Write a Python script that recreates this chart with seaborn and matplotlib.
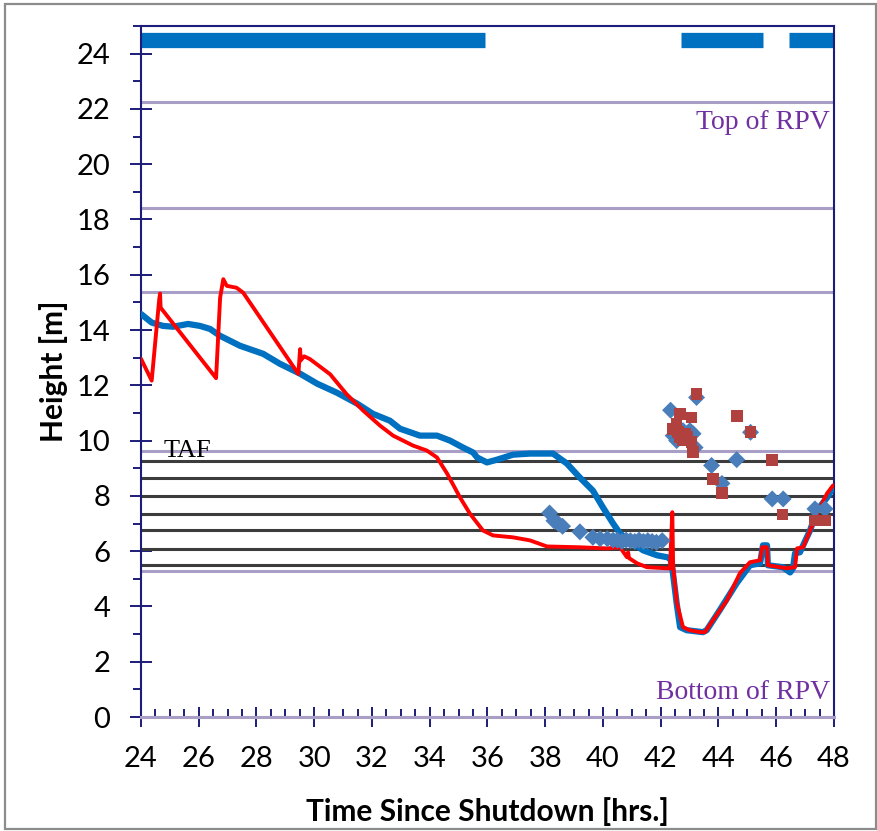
import matplotlib
matplotlib.use("Agg")
import matplotlib.pyplot as plt
import seaborn as sns
import numpy as np
import pandas as pd
from matplotlib.patches import Rectangle
from matplotlib.ticker import MultipleLocator

# ---------------- data ----------------
blue_t = [24.0, 24.37, 24.76, 25.11, 25.63, 26.04, 26.39, 26.74, 27.43, 28.23, 28.81, 29.51,
          30.10, 30.79, 31.48, 32.03, 32.62, 32.97, 33.66, 34.25, 34.70, 35.15, 35.50, 35.64,
          35.98, 36.33, 36.88, 37.47, 38.27, 38.75, 39.20, 39.65, 40.0, 40.35, 40.59, 41.04,
          41.39, 41.87, 42.22, 42.32, 42.38, 42.55, 42.67, 42.90, 43.46, 43.59, 44.04, 44.63,
          45.09, 45.44, 45.54, 45.68, 45.71, 46.23, 46.48, 46.58, 46.65, 46.82, 47.17, 47.41,
          47.76, 47.97]
blue_h = [14.58, 14.27, 14.15, 14.12, 14.22, 14.15, 14.04, 13.79, 13.43, 13.14, 12.78, 12.42,
          12.06, 11.73, 11.34, 10.97, 10.72, 10.43, 10.18, 10.18, 10.0, 9.75, 9.57, 9.39,
          9.21, 9.31, 9.49, 9.53, 9.53, 9.17, 8.66, 8.19, 7.58, 7.0, 6.64, 6.28,
          6.03, 5.85, 5.78, 5.74, 5.56, 4.12, 3.25, 3.14, 3.07, 3.14, 3.86, 4.84,
          5.49, 5.56, 6.21, 6.21, 5.49, 5.42, 5.23, 5.38, 5.92, 5.96, 6.75, 7.47,
          7.94, 8.30]

red_t = [24.0, 24.37, 24.63, 24.66, 24.68, 26.60, 26.74, 26.85, 26.97, 27.31, 27.54, 29.45,
         29.51, 29.53, 29.65, 29.85, 30.55, 31.12, 31.70, 32.28, 32.73, 33.42, 33.90, 34.25,
         34.60, 35.05, 35.39, 35.84, 36.19, 36.88, 37.47, 38.06, 39.20, 40.14, 40.59, 40.83,
         40.87, 40.90, 41.18, 41.52, 42.22, 42.32, 42.40, 42.43, 42.56, 42.77, 43.0, 43.36,
         43.53, 43.81, 44.29, 44.74, 45.09, 45.44, 45.51, 45.68, 45.71, 46.37, 46.65, 46.72,
         46.93, 47.17, 47.52, 47.76, 47.97]
red_h = [12.96, 12.17, 15.10, 15.32, 14.81, 12.26, 15.17, 15.84, 15.60, 15.53, 15.35, 12.41,
         13.31, 12.90, 13.05, 12.95, 12.40, 11.68, 11.08, 10.54, 10.18, 9.82, 9.64, 9.39,
         8.81, 7.94, 7.36, 6.75, 6.57, 6.50, 6.39, 6.17, 6.14, 6.10, 6.14, 5.78,
         5.96, 5.75, 5.56, 5.42, 5.38, 5.38, 7.41, 5.42, 4.12, 3.25, 3.14, 3.07,
         3.07, 3.50, 4.22, 5.20, 5.60, 5.67, 6.14, 6.14, 5.49, 5.38, 5.42, 6.10,
         6.14, 6.75, 7.58, 8.09, 8.38]

diamond_t = [38.15, 38.30, 38.45, 38.60, 39.20, 39.65, 39.90, 40.15, 40.35, 40.50, 40.65, 40.80,
             40.95, 41.10, 41.25, 41.40, 41.55, 41.70, 41.85, 42.05,
             42.34, 42.43, 42.55, 42.77, 43.01, 43.12, 43.19, 43.24, 43.76, 44.12, 44.63, 45.11,
             45.86, 46.24, 47.34, 47.69]
diamond_h = [7.38, 7.10, 7.00, 6.90, 6.70, 6.50, 6.45, 6.45, 6.40, 6.40, 6.35, 6.40,
             6.38, 6.35, 6.40, 6.35, 6.38, 6.35, 6.32, 6.38,
             11.10, 10.18, 10.00, 10.36, 10.36, 10.25, 9.75, 11.56, 9.10, 8.45, 9.31, 10.30,
             7.89, 7.89, 7.53, 7.53]

square_t = [42.43, 42.55, 42.67, 42.67, 42.78, 42.90, 43.07, 43.07, 43.12, 43.24, 42.60, 42.85,
            43.80, 44.13, 44.63, 45.11, 45.86, 46.22, 47.34, 47.69]
square_h = [10.42, 10.60, 10.96, 10.12, 10.00, 10.12, 10.84, 9.94, 9.58, 11.68, 10.30, 10.25,
            8.62, 8.10, 10.90, 10.30, 9.30, 7.33, 7.11, 7.11]

bar_start = [24.0, 42.70, 46.45]
bar_end = [35.90, 45.55, 48.0]
bar_level = 24.5

rpv_levels = [22.24, 18.41, 15.38, 9.64, 5.27, 0.0]
grid_levels = [9.28, 8.65, 7.99, 7.35, 6.75, 6.09, 5.49]

x_ticks = list(range(24, 49, 2))
y_ticks = list(range(0, 25, 2))

# ---------------- style ----------------
sns.set_style("white")
plt.rcParams['font.family'] = ['Lato', 'DejaVu Sans']

NAVY = "#1c1c7a"
LAV = "#a99ec6"
PURPLE = "#7030a0"

fig = plt.figure(figsize=(8.78, 8.31), dpi=100)
ax = fig.add_axes([141/878, 1-717/831, (834-141)/878, (717-26)/831])

# horizontal reference lines
for lv in grid_levels:
    ax.axhline(lv, color="#3c3c3c", lw=2.2, zorder=1)
for lv in rpv_levels:
    ax.axhline(lv, color=LAV, lw=2.2, zorder=1.5)

# top status bars
ax.hlines([bar_level]*len(bar_start), bar_start, bar_end, colors="#0070c0", lw=11,
          zorder=2)

blue_df = pd.DataFrame({"t": blue_t, "h": blue_h})
red_df = pd.DataFrame({"t": red_t, "h": red_h})
dia_df = pd.DataFrame({"t": diamond_t, "h": diamond_h})
sq_df = pd.DataFrame({"t": square_t, "h": square_h})

sns.lineplot(data=blue_df, x="t", y="h", sort=False, estimator=None, color="#0070c0",
             lw=4.5, ax=ax, zorder=3)
sns.lineplot(data=red_df, x="t", y="h", sort=False, estimator=None, color="#ff0000",
             lw=2.8, ax=ax, zorder=4)
sns.scatterplot(data=dia_df, x="t", y="h", marker="D", s=75, color="#4a7ebb",
                edgecolor="none", ax=ax, zorder=5)
sns.scatterplot(data=sq_df, x="t", y="h", marker="s", s=70, color="#b0413e",
                edgecolor="none", ax=ax, zorder=6)

# annotations
ax.text(47.85, 21.5, "Top of RPV", ha="right", va="center", color=PURPLE,
        fontsize=20, family=["Liberation Serif", "DejaVu Serif"], zorder=7)
ax.text(47.85, 0.88, "Bottom of RPV", ha="right", va="center", color=PURPLE,
        fontsize=20, family=["Liberation Serif", "DejaVu Serif"], zorder=7)
ax.text(24.78, 9.62, "TAF", ha="left", va="center", color="black",
        fontsize=19, family=["Liberation Serif", "DejaVu Serif"], zorder=7)

# axes
ax.set_xlim(24, 48)
ax.set_ylim(0, 25)
ax.set_xticks(x_ticks)
ax.set_yticks(y_ticks)
ax.xaxis.set_minor_locator(MultipleLocator(0.5))
ax.yaxis.set_minor_locator(MultipleLocator(1))

ax.tick_params(axis="x", which="major", direction="inout", length=14, width=1.4,
               color=NAVY, labelsize=21, pad=14, labelcolor="black")
ax.tick_params(axis="x", which="minor", direction="in", length=5.5, width=1.4, color=NAVY)
ax.tick_params(axis="y", which="major", direction="inout", length=16, width=1.4,
               color=NAVY, labelsize=21, pad=14, labelcolor="black")
ax.tick_params(axis="y", which="minor", direction="out", length=6, width=1.4, color=NAVY)
ax.xaxis.set_ticks_position("bottom")
ax.yaxis.set_ticks_position("left")

for side in ["left", "top", "right"]:
    ax.spines[side].set_color(NAVY)
    ax.spines[side].set_linewidth(1.5)
ax.spines["bottom"].set_color(LAV)
ax.spines["bottom"].set_linewidth(2.2)

ax.set_xlabel("Time Since Shutdown [hrs.]", fontsize=21.5, fontweight="bold", color="black")
ax.set_ylabel("Height [m]", fontsize=21.5, fontweight="bold", color="black")
ax.xaxis.set_label_coords(0.5, (717-797)/691)
ax.yaxis.set_label_coords((68-141)/693, 0.5)

# outer frame
fig.patches.append(Rectangle((5/878, 1-829/831), 871/878, 825/831,
                             transform=fig.transFigure, fill=False,
                             edgecolor="#8c8c8c", lw=1.6))

fig.savefig("out.png", dpi=100)
